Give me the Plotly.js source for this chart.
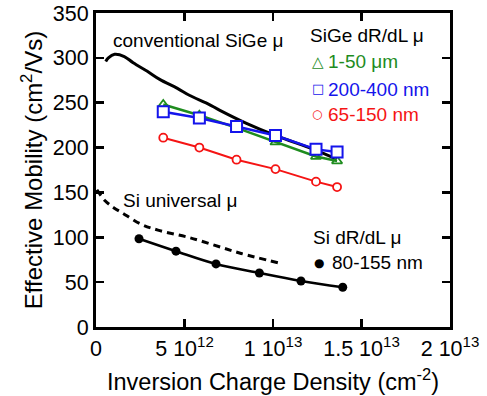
<!DOCTYPE html>
<html>
<head>
<meta charset="utf-8">
<script src="https://cdn.plot.ly/plotly-3.0.1.min.js"></script>
<style>html,body{margin:0;padding:0;background:#fff;}#chart{width:487px;height:396px;}</style>
</head>
<body>
<div id="chart"></div>
<script>
// Conventional SiGe mobility (solid black curve)
const convX = [0.55e12,0.7e12,1.05e12,1.6e12,2.1e12,2.9e12,3.6e12,4.6e12,5.3e12,6.3e12,7.0e12,8.5e12,10.2e12,12.3e12,13.6e12];
const convY = [296,300,304,301.5,294.5,285,276,266,258,249,241.5,227,213,198,187];

// SiGe dR/dL mobility
const sigeX = [3.8e12,5.84e12,7.94e12,10.14e12,12.43e12,13.62e12];
const green_1_50um = [248,236,222,206,190,185];
const blue_200_400nm = [240,233,223.5,213.5,198,195];
const red_65_150nm = [211,200,186.5,176,162,156];

// Si universal mobility (dashed)
const siUnivX = [0.05e12,0.5e12,1.0e12,1.5e12,2.5e12,3.5e12,5.3e12,7.2e12,8.2e12,10.3e12];
const siUnivY = [153,141,133,127,115,108,99.5,88,82,71.5];

// Si dR/dL mobility 80-155 nm
const siX = [2.43e12,4.52e12,6.78e12,9.23e12,11.58e12,13.94e12];
const siY = [98.4,84.5,70.3,60.2,51.3,44.3];

const xTickVals = [0,5e12,1e13,1.5e13,2e13];
const xTickText = ['0','5 10<sup>12</sup>','1 10<sup>13</sup>','1.5 10<sup>13</sup>','2 10<sup>13</sup>'];
const yTickVals = [0,50,100,150,200,250,300,350];

const GREEN = 'rgb(30,140,30)', BLUE = 'rgb(20,20,235)', RED = 'rgb(245,20,20)';
const FONT = 'Liberation Sans, Arial, sans-serif';
const SYMFONT = 'DejaVu Sans, sans-serif';

const traces = [
  {x: convX, y: convY, mode: 'lines', line: {color: 'black', width: 3, shape: 'spline'}},
  {x: sigeX, y: green_1_50um, mode: 'lines+markers', line: {color: GREEN, width: 2.5},
   marker: {symbol: 'triangle-up-open', size: 9, color: GREEN, line: {width: 1.8}}},
  {x: sigeX, y: blue_200_400nm, mode: 'lines+markers', line: {color: BLUE, width: 2.5},
   marker: {symbol: 'square', size: 11, color: 'white', line: {color: BLUE, width: 2}}},
  {x: sigeX, y: red_65_150nm, mode: 'lines+markers', line: {color: RED, width: 2},
   marker: {symbol: 'circle', size: 8, color: 'white', line: {color: RED, width: 1.8}}},
  {x: siUnivX, y: siUnivY, mode: 'lines', line: {color: 'black', width: 3, dash: '7px,5px', shape: 'spline'}},
  {x: siX, y: siY, mode: 'lines+markers', line: {color: 'black', width: 2.5, shape: 'spline'},
   marker: {symbol: 'circle', size: 9, color: 'black'}}
];

const ann = (text, x, y, color, size, xanchor, family) => ({
  text, x, y, xref: 'paper', yref: 'paper', showarrow: false, xanchor: xanchor || 'left', yanchor: 'middle',
  font: {family: family || FONT, size: size || 19, color: color || 'black'}
});

const layout = {
  width: 487, height: 396,
  margin: {l: 96, r: 37, t: 13, b: 69},
  paper_bgcolor: 'white', plot_bgcolor: 'white',
  showlegend: false,
  font: {family: FONT, color: 'black'},
  xaxis: {
    range: [0, 2e13], tickvals: xTickVals, ticktext: xTickText,
    ticks: 'inside', ticklen: 8, tickwidth: 2.5, tickcolor: 'black',
    showline: true, linewidth: 3, linecolor: 'black', mirror: 'ticks',
    showgrid: false, zeroline: false,
    tickfont: {family: FONT, size: 21.5},
    title: {text: 'Inversion Charge Density (cm<sup>-2</sup>)', font: {family: FONT, size: 23.5}, standoff: 14}
  },
  yaxis: {
    range: [0, 350], tickvals: yTickVals,
    ticks: 'inside', ticklen: 8, tickwidth: 2.5, tickcolor: 'black',
    showline: true, linewidth: 3, linecolor: 'black', mirror: 'ticks',
    showgrid: false, zeroline: false,
    tickfont: {family: FONT, size: 21.5},
    title: {text: 'Effective Mobility (cm<sup>2</sup>/Vs)', font: {family: FONT, size: 24}, standoff: 4}
  },
  annotations: [
    ann('conventional SiGe μ', 0.042, 0.912),
    ann('SiGe dR/dL μ', 0.599, 0.928),
    ann('△', 0.628, 0.843, GREEN, 15, 'center', SYMFONT),
    ann('1-50 μm', 0.650, 0.844, GREEN),
    ann('□', 0.626, 0.760, BLUE, 13, 'center', SYMFONT),
    ann('200-400 nm', 0.650, 0.757, BLUE),
    ann('○', 0.624, 0.679, RED, 12, 'center', SYMFONT),
    ann('65-150 nm', 0.650, 0.677, RED),
    ann('Si universal μ', 0.071, 0.404),
    ann('Si dR/dL μ', 0.607, 0.285),
    ann('●', 0.630, 0.203, 'black', 12, 'center', SYMFONT),
    ann('80-155 nm', 0.661, 0.207)
  ]
};

Plotly.newPlot('chart', traces, layout, {displayModeBar: false, staticPlot: true});
</script>
</body>
</html>
